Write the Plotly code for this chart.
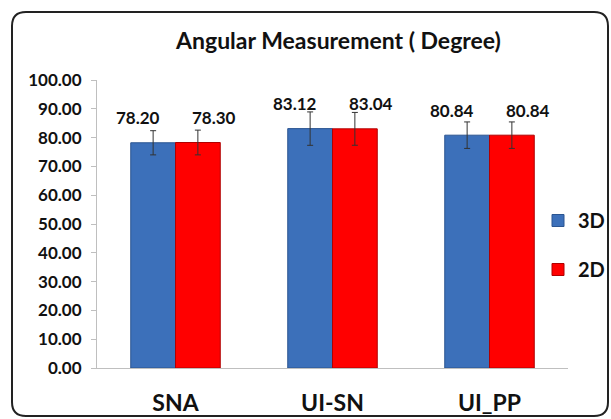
import plotly.graph_objects as go

categories = ["SNA", "UI-SN", "UI_PP"]
series_names = ["3D", "2D"]
values_3d = [78.20, 83.12, 80.84]
values_2d = [78.30, 83.04, 80.84]
err_3d = [4.2, 5.8, 4.6]
err_2d = [4.3, 5.7, 4.6]
tick_vals = [0, 10, 20, 30, 40, 50, 60, 70, 80, 90, 100]
tick_text = ["0.00", "10.00", "20.00", "30.00", "40.00", "50.00", "60.00",
             "70.00", "80.00", "90.00", "100.00"]

FONT = "Lato, 'DejaVu Sans Condensed', sans-serif"
W, H = 611, 419
L, R, T, B = 97, 43, 80, 51

fig = go.Figure()
fig.add_trace(go.Bar(
    x=categories, y=values_3d, name=series_names[0], legendgroup="a",
    marker=dict(color="#3C70BA", line=dict(color="#2B5591", width=1)),
    error_y=dict(type="data", array=err_3d, color="#333333", thickness=1, width=3),
))
fig.add_trace(go.Bar(
    x=categories, y=values_2d, name=series_names[1], legendgroup="b",
    marker=dict(color="#FF0000", line=dict(color="#B00000", width=1)),
    error_y=dict(type="data", array=err_2d, color="#333333", thickness=1, width=3),
))

for vals, xs in ((values_3d, -38), (values_2d, 38)):
    for c, v in zip(categories, vals):
        fig.add_annotation(x=c, y=v, text=f"{v:.2f}", showarrow=False,
                           xshift=xs, yshift=25, yanchor="middle",
                           font=dict(family=FONT, size=17, color="#111111", weight="bold"))

# rounded border around the whole chart (paper coordinates)
pw, ph = W - L - R, H - T - B
def px(xp): return (xp - L) / pw
def py(yp): return (H - B - yp) / ph
x0, x1, y0, y1, r = 12, 608, 12, 416, 14
path = (f"M {px(x0+r)},{py(y0)} L {px(x1-r)},{py(y0)} Q {px(x1)},{py(y0)} {px(x1)},{py(y0+r)} "
        f"L {px(x1)},{py(y1-r)} Q {px(x1)},{py(y1)} {px(x1-r)},{py(y1)} "
        f"L {px(x0+r)},{py(y1)} Q {px(x0)},{py(y1)} {px(x0)},{py(y1-r)} "
        f"L {px(x0)},{py(y0+r)} Q {px(x0)},{py(y0)} {px(x0+r)},{py(y0)} Z")
fig.add_shape(type="path", path=path, xref="paper", yref="paper",
              line=dict(color="#222222", width=2), layer="above")

fig.update_layout(
    width=W, height=H,
    margin=dict(l=L, r=R, t=T, b=B, autoexpand=False),
    paper_bgcolor="white", plot_bgcolor="white",
    barmode="group", bargap=0.43, bargroupgap=0,
    title=dict(text="Angular Measurement ( Degree)", x=338.5 / W, xanchor="center",
               y=1 - 41 / H, yanchor="middle",
               font=dict(family=FONT, size=23, color="#111111", weight="bold")),
    legend=dict(x=(538 - L) / pw, y=py(201), xanchor="left", yanchor="top",
                font=dict(family=FONT, size=20, color="#111111", weight="bold"),
                tracegroupgap=20, itemwidth=30, bgcolor="rgba(0,0,0,0)",
                traceorder="grouped"),
    showlegend=True,
)
fig.update_xaxes(showline=True, linecolor="#BFBFBF", linewidth=1, ticks="",
                 tickfont=dict(family=FONT, size=23, color="#111111", weight="bold"),
                 ticklabelstandoff=14, automargin=False,
                 showgrid=False)
fig.update_yaxes(range=[0, 100], tickvals=tick_vals, ticktext=tick_text,
                 showline=True, linecolor="#BFBFBF", linewidth=1,
                 ticks="outside", ticklen=5, tickcolor="#BFBFBF",
                 tickfont=dict(family=FONT, size=17, color="#111111", weight="bold"),
                 ticklabelstandoff=6,
                 showgrid=False, zeroline=False, automargin=False)

fig.write_html("out.html", config={"displayModeBar": False},
               post_script="document.body.style.margin='0';document.body.style.padding='0';")
